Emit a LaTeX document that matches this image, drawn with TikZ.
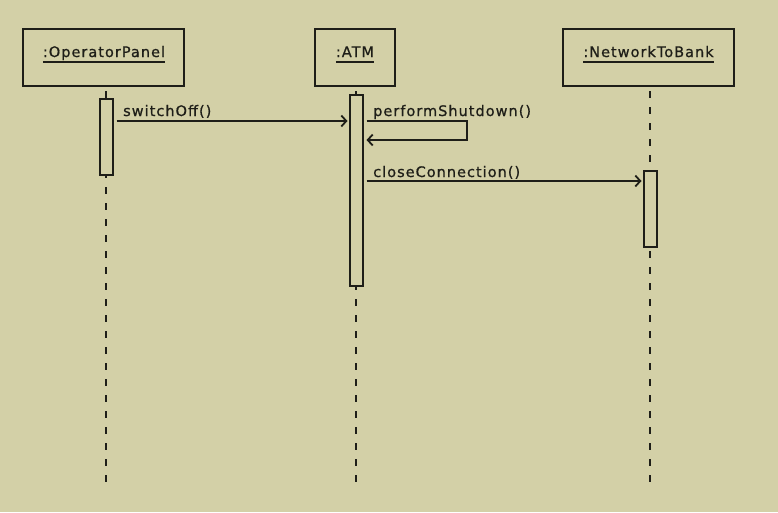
\documentclass[tikz,border=0pt]{standalone}
\usepackage{fontspec}
\setmainfont[LetterSpace=7,FakeBold=0.8]{DejaVu Sans}
\usetikzlibrary{arrows.meta}
\definecolor{canvas}{RGB}{211,208,167}
\definecolor{ink}{RGB}{30,30,24}
% object name with a fixed-depth underline
\newcommand\objname[1]{\setbox0\hbox{#1}\usebox0\llap{\rule[-5.5pt]{\wd0}{1.6pt}}}
\tikzset{
  obj/.style={draw=ink, line width=2.2pt, fill=canvas, inner sep=0pt},
  objlabel/.style={anchor=base, inner sep=0pt, text=ink, font=\fontsize{14.5pt}{16pt}\selectfont},
  bar/.style={draw=ink, line width=2pt, fill=canvas, inner sep=0pt, minimum width=13pt},
  life/.style={draw=ink, line width=2.4pt, dash pattern=on 7pt off 9pt},
  msg/.style={draw=ink, line width=2.2pt, -{Straight Barb[length=5pt,width=11pt,line width=1.8pt]}},
  msglabel/.style={anchor=base west, inner sep=0pt, text=ink, font=\fontsize{14.5pt}{16pt}\selectfont},
}
\begin{document}
\begin{tikzpicture}[x=1pt,y=-1pt]
\fill[canvas] (0,0) rectangle (778,512);
\useasboundingbox (0,0) rectangle (778,512);

% lifelines
\coordinate (opTop) at (106,91);   \coordinate (opEnd) at (106,486);
\coordinate (atmTop) at (356,91);  \coordinate (atmEnd) at (356,486);
\coordinate (netTop) at (650,91);  \coordinate (netEnd) at (650,486);
\draw[life] (opTop) -- (opEnd);
\draw[life] (atmTop) -- (atmEnd);
\draw[life] (netTop) -- (netEnd);

% object boxes
\node[obj, minimum width=161pt, minimum height=57pt] (op) at (103.5,57.5) {};
\node[obj, minimum width=80pt, minimum height=57pt] (atm) at (355,57.5) {};
\node[obj, minimum width=171pt, minimum height=57pt] (net) at (648.5,57.5) {};
\node[objlabel] (opname) at (104,57) {\objname{:OperatorPanel}};
\node[objlabel] (atmname) at (355,57) {\objname{:ATM}};
\node[objlabel] (netname) at (648.5,57) {\objname{:NetworkToBank}};

% activation bars
\node[bar, minimum height=76pt] (opbar) at (106,137) {};
\node[bar, minimum height=191pt] (atmbar) at (356,190.5) {};
\node[bar, minimum height=76pt] (netbar) at (650,209) {};

% messages
\coordinate (m1) at (0,121);
\coordinate (m2a) at (0,121);
\coordinate (m2b) at (0,140);
\coordinate (m3) at (0,181);
\coordinate (selfx) at (467,0);

\draw[msg] ([xshift=3pt]opbar.east |- m1) -- ([xshift=-1pt]atmbar.west |- m1);
\draw[msg] ([xshift=3pt]atmbar.east |- m2a) -- (selfx |- m2a) -- (selfx |- m2b) -- ([xshift=3pt]atmbar.east |- m2b);
\draw[msg] ([xshift=3pt]atmbar.east |- m3) -- ([xshift=-1pt]netbar.west |- m3);

\node[msglabel] (l1) at (123,116) {switchOff()};
\node[msglabel] (l2) at (373,116) {performShutdown()};
\node[msglabel] (l3) at (373,177) {closeConnection()};
\end{tikzpicture}
\end{document}
